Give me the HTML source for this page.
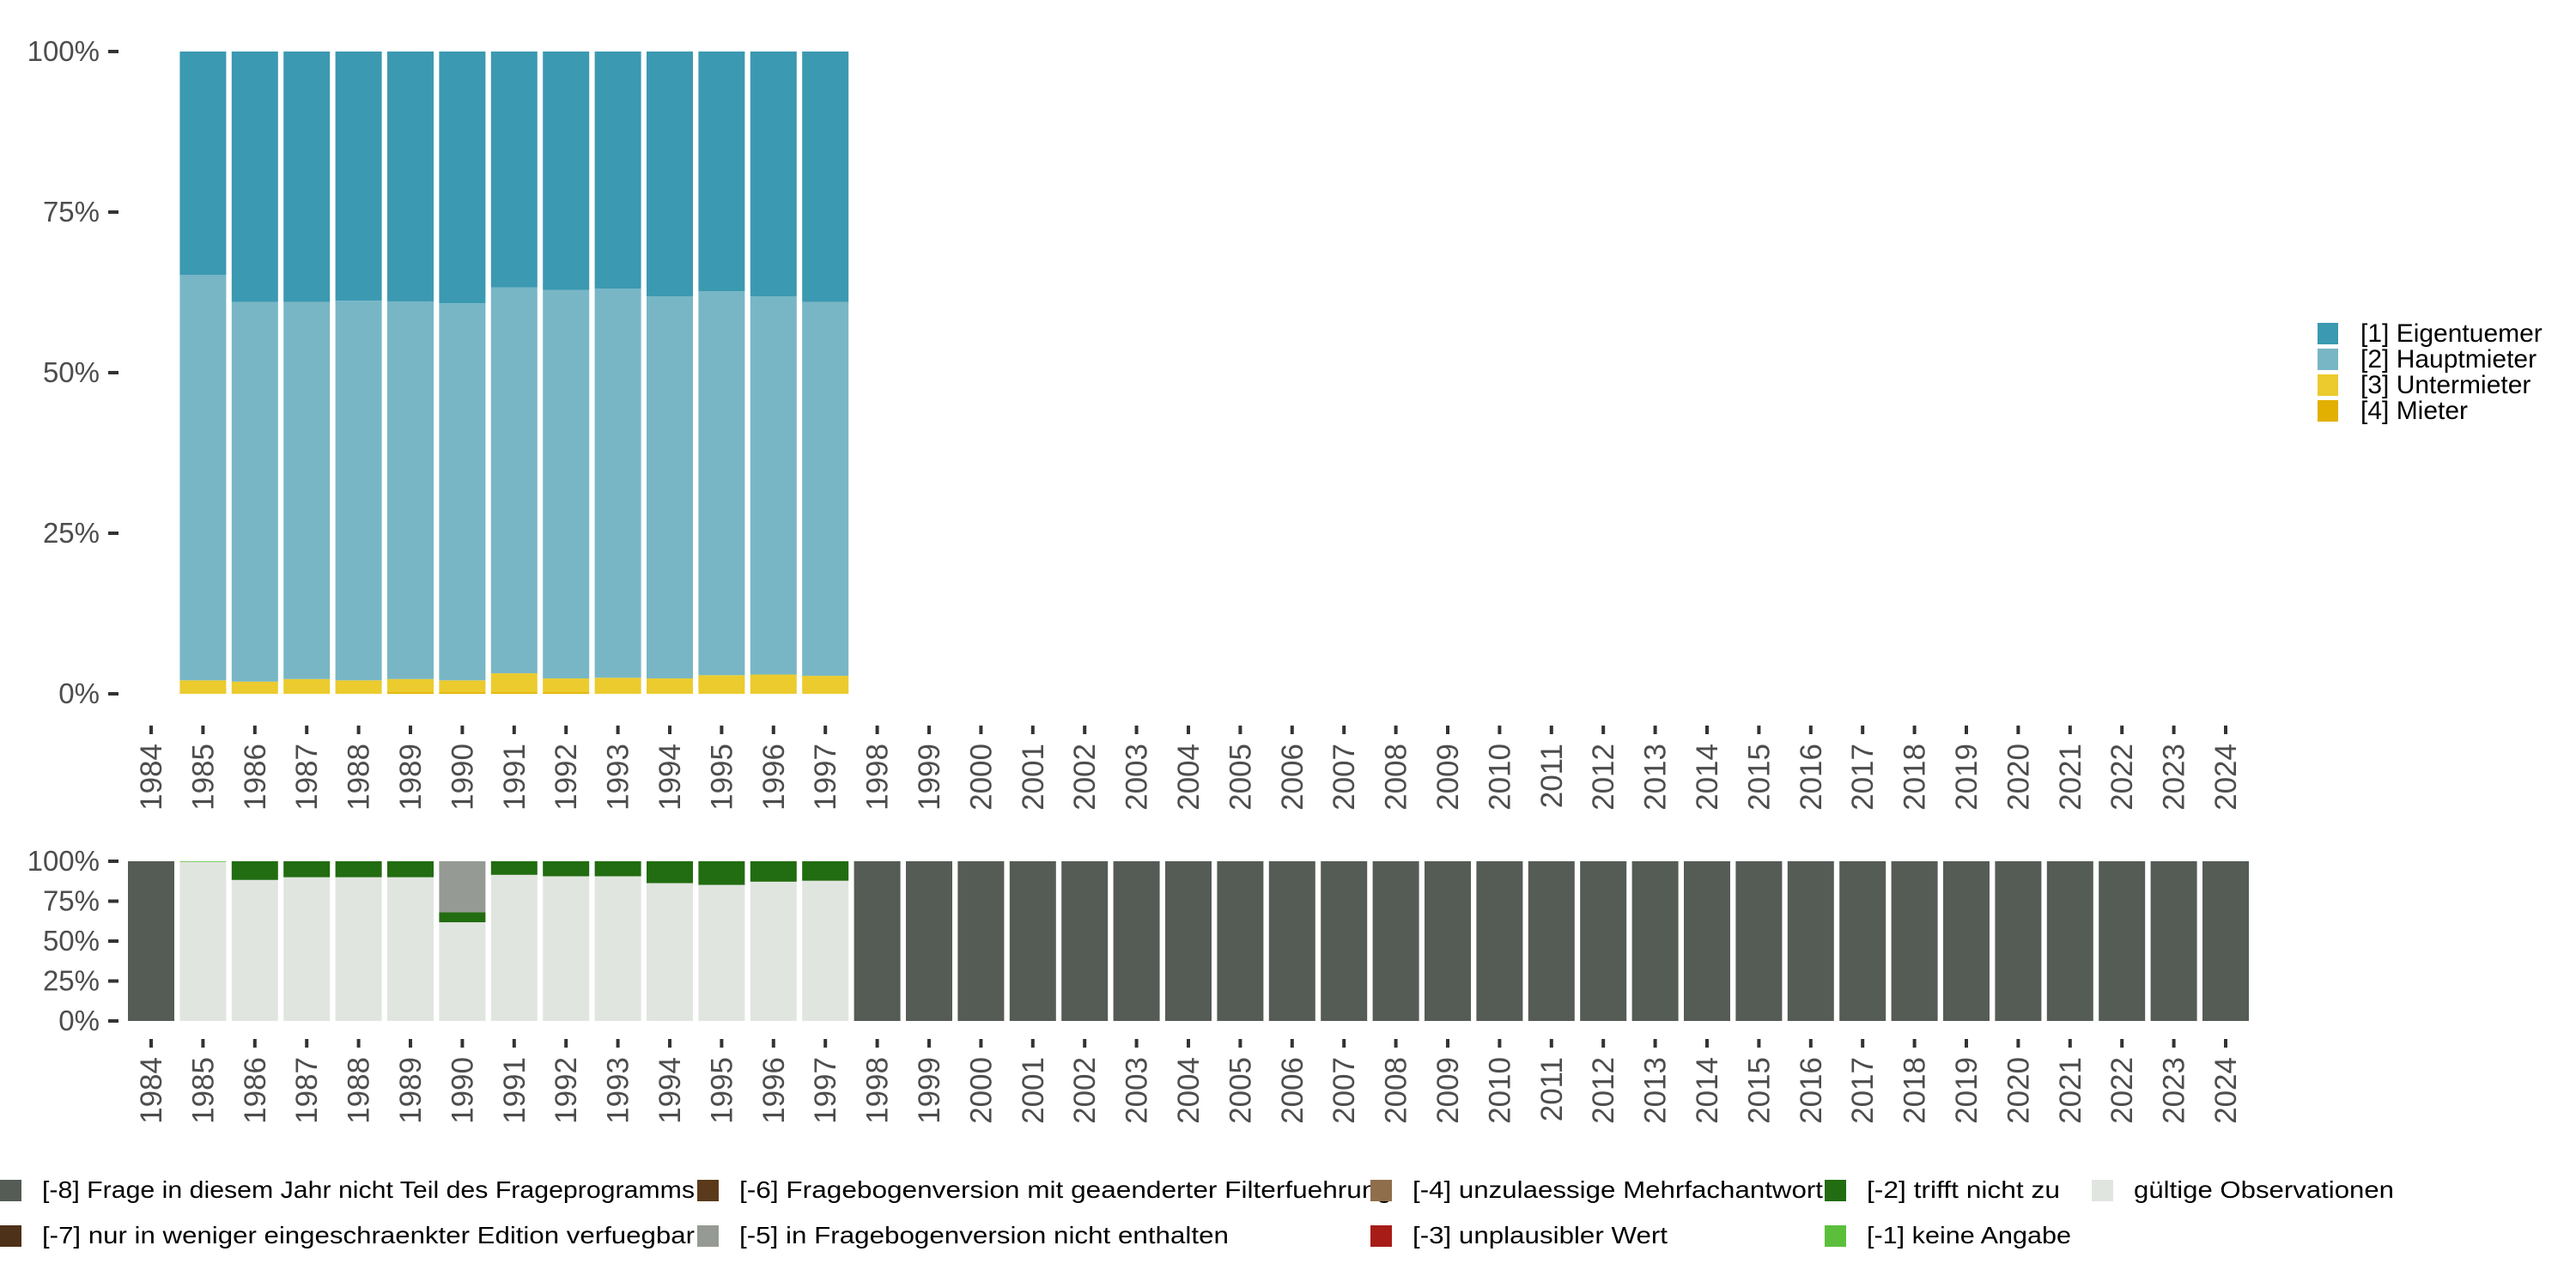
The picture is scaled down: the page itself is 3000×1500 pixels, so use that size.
<!DOCTYPE html>
<html><head><meta charset="utf-8"><style>
html,body{margin:0;padding:0;background:#fff;}
svg{display:block;font-family:"Liberation Sans",sans-serif;}
</style></head><body>
<svg id="chart" width="3000" height="1500" viewBox="0 0 3000 1500" xmlns="http://www.w3.org/2000/svg">
<g id="topPanel"></g>
<g id="botPanel"></g>
<g id="legR"></g>
<g id="legB"></g>
</svg>
<script>
const years = [];
for (let y = 1984; y <= 2024; y++) years.push(y);
const topYears = [1985,1986,1987,1988,1989,1990,1991,1992,1993,1994,1995,1996,1997];
const mieter   = [0,0,0,0,0.2,0.2,0.2,0.2,0,0,0,0,0];
const unter    = [2.1,1.9,2.3,2.1,2.1,1.9,3.0,2.2,2.5,2.4,2.9,3.0,2.8];
const haupt    = [63.1,59.1,58.7,59.1,58.8,58.7,60.1,60.5,60.6,59.5,59.8,58.9,58.2];
const eigen    = [34.8,39.0,39.0,38.8,38.9,39.2,36.7,37.1,36.9,38.1,37.3,38.1,39.0];
const yTicks = [0,25,50,75,100];
const yTickLabels = ["0%","25%","50%","75%","100%"];
const botYears = [1985,1986,1987,1988,1989,1990,1991,1992,1993,1994,1995,1996,1997];
const valid    = [99.6,88.3,90.0,90.0,90.0,61.8,91.5,90.6,90.6,86.3,85.2,87.2,87.8];
const keine    = [0.4,0,0,0,0,0,0,0,0,0,0,0,0];
const trifft   = [0,11.7,10.0,10.0,10.0,6.2,8.5,9.4,9.4,13.7,14.8,12.8,12.2];
const version5 = [0,0,0,0,0,32.0,0,0,0,0,0,0,0];

const NS="http://www.w3.org/2000/svg";
function mk(tag, attrs, parent){const e=document.createElementNS(NS,tag);for(const k in attrs)e.setAttribute(k,attrs[k]);parent.appendChild(e);return e;}
const xPos = yr => 176 + (yr-1984)*60.4;
const BW = 54;
function yTop(v){return 808 - v/100*748;}
function yBot(v){return 1189 - v/100*186;}

function axes(g, yf, tickLabY, tickFs, prefix){
  yTicks.forEach((t,i)=>{
    const yy=yf(t);
    const tk=mk('line',{x1:126,x2:138,y1:yy,y2:yy,stroke:'#333','stroke-width':4},g);
    
    
    const tx=mk('text',{x:116,y:yy+11,'text-anchor':'end','font-size':tickFs,fill:'#4d4d4d'},g);
    tx.textContent=yTickLabels[i];
    
    
  });
  years.forEach(yr=>{
    const x=xPos(yr);
    const tk=mk('line',{x1:x,x2:x,y1:tickLabY-21,y2:tickLabY-11,stroke:'#333','stroke-width':4},g);
    
    
    const tx=mk('text',{x:0,y:0,'text-anchor':'end','font-size':35,fill:'#4d4d4d',transform:`translate(${x+12},${tickLabY}) rotate(-90)`},g);
    tx.textContent=yr;
    
    
  });
}

const topG=document.getElementById('topPanel');
const topSeries=[[mieter,'#e2b000','mieter'],[unter,'#ebcb2e','untermieter'],[haupt,'#78b6c5','hauptmieter'],[eigen,'#3b99b1','eigentuemer']];
topYears.forEach((yr,i)=>{
  let cum=0;
  topSeries.forEach(([arr,col,nm])=>{
    const v=arr[i]; if(v<=0){return;}
    const r=mk('rect',{x:xPos(yr)-BW/2,y:yTop(cum+v),width:BW,height:yTop(cum)-yTop(cum+v),fill:col},topG);
    
    
    cum+=v;
  });
});
axes(topG,yTop,866,33,'top');

const botG=document.getElementById('botPanel');
const botSeries=[[valid,'#e1e5e0','valid'],[keine,'#5bbf3c','keine-angabe'],[trifft,'#226c11','trifft-nicht-zu'],[version5,'#969a94','version-nicht-enthalten']];
years.forEach(yr=>{
  const i=botYears.indexOf(yr);
  if(i<0){
    const r=mk('rect',{x:xPos(yr)-BW/2,y:yBot(100),width:BW,height:yBot(0)-yBot(100),fill:'#545c55'},botG);
    
    
    return;
  }
  let cum=0;
  botSeries.forEach(([arr,col,nm])=>{
    const v=arr[i]; if(v<=0)return;
    const r=mk('rect',{x:xPos(yr)-BW/2,y:yBot(cum+v),width:BW,height:yBot(cum)-yBot(cum+v),fill:col},botG);
    
    
    cum+=v;
  });
});
axes(botG,yBot,1231,33,'bottom');

const legRG=document.getElementById('legR');
[['#3b99b1','[1] Eigentuemer'],['#78b6c5','[2] Hauptmieter'],['#ebcb2e','[3] Untermieter'],['#e2b000','[4] Mieter']].forEach(([c,t],i)=>{
  const y=376+i*30;
  const r=mk('rect',{x:2699,y:y,width:24,height:25,fill:c},legRG);
  
  
  const tx=mk('text',{x:2749,y:y+22,'font-size':30,fill:'#000'},legRG);
  tx.textContent=t;
  
  
});

const legBG=document.getElementById('legB');
const items=[
 [0,1374,'#545c55','[-8] Frage in diesem Jahr nicht Teil des Frageprogramms',760],
 [0,1427,'#4e3119','[-7] nur in weniger eingeschraenkter Edition verfuegbar',760],
 [812,1374,'#5a3a1a','[-6] Fragebogenversion mit geaenderter Filterfuehrung',760],
 [812,1427,'#969a94','[-5] in Fragebogenversion nicht enthalten',570],
 [1596,1374,'#8f6e4b','[-4] unzulaessige Mehrfachantwort',478],
 [1596,1427,'#a81c18','[-3] unplausibler Wert',297],
 [2125,1374,'#226c11','[-2] trifft nicht zu',225],
 [2125,1427,'#5bbf3c','[-1] keine Angabe',238],
 [2436,1374,'#e1e5e0','gültige Observationen',303]
];
items.forEach(([x,y,c,t,w])=>{
  const r=mk('rect',{x:x,y:y,width:25,height:25,fill:c},legBG);
  
  
  const tx=mk('text',{x:x+49,y:y+21,'font-size':28,fill:'#000',textLength:w,lengthAdjust:'spacingAndGlyphs'},legBG);
  tx.textContent=t;
  
  
});
</script>
</body></html>
